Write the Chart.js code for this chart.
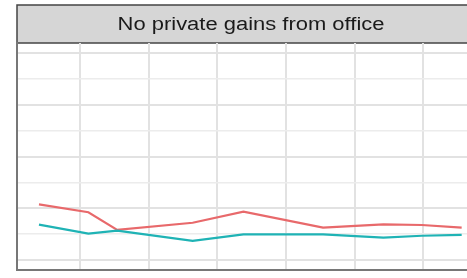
<!DOCTYPE html>
<html>
<head>
<meta charset="utf-8">
<script src="https://cdn.jsdelivr.net/npm/chart.js@4"></script>
<style>
  html, body { margin: 0; padding: 0; background: #fff; overflow: hidden; }
  #wrap { width: 490px; height: 278px; }
</style>
</head>
<body>
<div id="wrap"><canvas id="chart" width="490" height="278"></canvas></div>
<script>
// panel title
const panelTitle = "No private gains from office";

// x positions (years) and the two series
const years = [1992.0, 1995.6, 1997.7, 2003.2, 2006.9, 2012.7, 2017.1, 2019.9, 2022.8];
const redValues = [0.268, 0.230, 0.144, 0.179, 0.233, 0.155, 0.171, 0.168, 0.155];
const tealValues = [0.170, 0.126, 0.141, 0.091, 0.123, 0.123, 0.107, 0.116, 0.120];

// gridline positions
const xTicks = [1995, 2000, 2005, 2010, 2015, 2020];
const yTicks = [0, 0.125, 0.25, 0.375, 0.5, 0.625, 0.75, 0.875, 1];

const toPoints = (vals) => vals.map((v, i) => ({ x: years[i], y: v }));

const stripPlugin = {
  id: 'strip',
  beforeDraw(chart) {
    const { ctx, chartArea } = chart;
    const top = 5;
    ctx.save();
    ctx.fillStyle = '#d6d6d6';
    ctx.fillRect(chartArea.left, top, chartArea.right - chartArea.left, chartArea.top - top);
    ctx.strokeStyle = '#444444';
    ctx.lineWidth = 1.5;
    ctx.strokeRect(chartArea.left, top, chartArea.right - chartArea.left, chartArea.top - top);
    const cx = (chartArea.left + chartArea.right) / 2;
    ctx.translate(cx, 30);
    ctx.scale(1.22, 1);
    ctx.font = '18px "Liberation Sans", Arial, sans-serif';
    ctx.fillStyle = '#1a1a1a';
    ctx.textAlign = 'center';
    ctx.textBaseline = 'alphabetic';
    ctx.fillText(panelTitle, 0, 0);
    ctx.restore();
  }
};

new Chart(document.getElementById('chart'), {
  type: 'line',
  data: {
    datasets: [
      {
        label: 'teal',
        data: toPoints(tealValues),
        borderColor: '#1fb3b5',
        borderWidth: 2.2,
        pointRadius: 0,
        tension: 0
      },
      {
        label: 'red',
        data: toPoints(redValues),
        borderColor: '#e8696b',
        borderWidth: 2.2,
        pointRadius: 0,
        tension: 0
      }
    ]
  },
  options: {
    responsive: false,
    animation: false,
    layout: { padding: { left: 17, right: 5, top: 43, bottom: 8 } },
    plugins: {
      legend: { display: false },
      tooltip: { enabled: false }
    },
    scales: {
      x: {
        type: 'linear',
        min: 1990.4,
        max: 2024.5,
        afterBuildTicks(scale) { scale.ticks = xTicks.map(v => ({ value: v })); },
        afterFit(scale) { scale.height = 0; },
        ticks: { display: false },
        grid: { color: '#e2e2e2', lineWidth: 2, drawTicks: false },
        border: { display: true, color: '#777777', width: 2 }
      },
      y: {
        min: -0.05,
        max: 1.05,
        afterBuildTicks(scale) { scale.ticks = yTicks.map(v => ({ value: v })); },
        afterFit(scale) { scale.width = 0; },
        ticks: { display: false },
        grid: {
          drawTicks: false,
          color: ctx => (ctx.tick && ctx.tick.value * 4 % 1 === 0) ? '#e2e2e2' : '#ececec',
          lineWidth: ctx => (ctx.tick && ctx.tick.value * 4 % 1 === 0) ? 2 : 1.5
        },
        border: { display: true, color: '#777777', width: 2 }
      }
    }
  },
  plugins: [stripPlugin]
});
</script>
</body>
</html>
